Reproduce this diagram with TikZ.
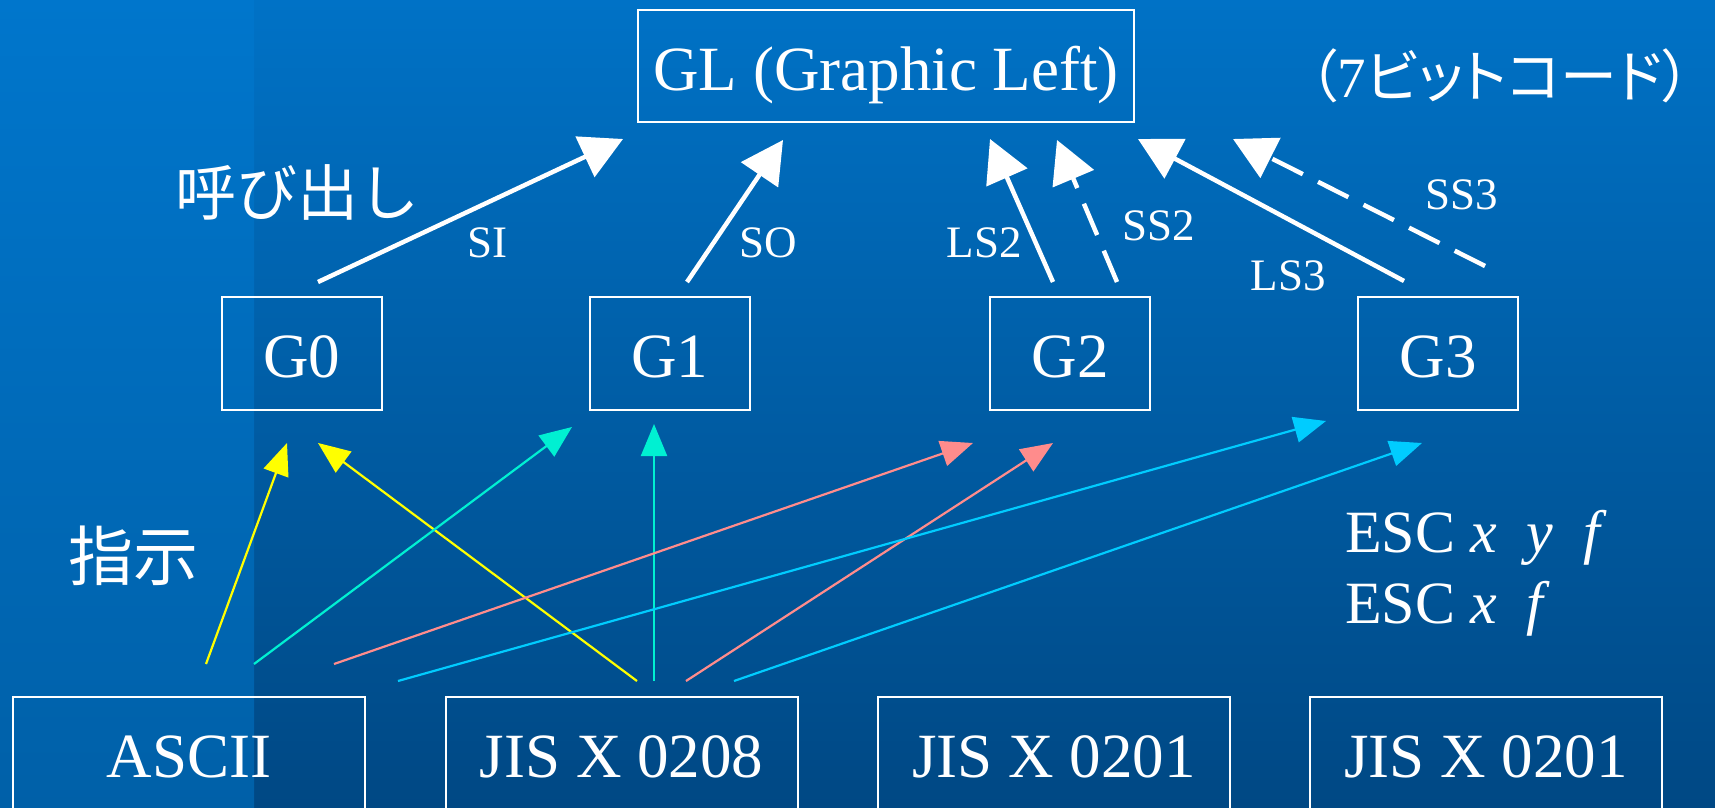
\documentclass[tikz,border=0pt]{standalone}
\usepackage{fontspec}
\setmainfont{Liberation Serif}
\newfontfamily\jp{Noto Sans CJK JP}
\newfontfamily\jpp[RawFeature=+palt]{Noto Sans CJK JP}
\usetikzlibrary{arrows.meta}
\definecolor{bgtop}{RGB}{0,114,198}
\definecolor{bgbot}{RGB}{0,72,132}
\definecolor{striptop}{RGB}{0,118,204}
\definecolor{stripbot}{RGB}{0,96,168}
\definecolor{cyel}{RGB}{255,255,0}
\definecolor{caqua}{RGB}{0,240,210}
\definecolor{csalmon}{RGB}{255,140,140}
\definecolor{csky}{RGB}{0,204,255}
\begin{document}
\begin{tikzpicture}[x=1pt,y=-1pt,
  box/.style={draw=white,line width=2pt,inner sep=0pt,text=white,font=\fontsize{63}{63}\selectfont},
  lbl/.style={text=white,inner sep=0pt,font=\fontsize{45}{45}\selectfont},
  jplbl/.style={text=white,inner sep=0pt},
  callarrow/.style={draw=white,line width=4.5pt,-{Triangle[length=42pt,width=44pt]}},
  desig/.style={line width=2.2pt,-{Triangle[length=32pt,width=26pt]}},
]
\useasboundingbox (0,0) rectangle (1715,808);
\clip (0,0) rectangle (1715,808);
\shade[top color=bgtop,bottom color=bgbot] (254,0) rectangle (1715,808);
\shade[top color=striptop,bottom color=stripbot] (0,0) rectangle (254,808);

% top box
\node[box,minimum width=496pt,minimum height=111pt] (gl) at (886,66) {\raisebox{-24.5pt}[0pt][0pt]{GL (Graphic Left)}};
\node[jplbl,font=\fontsize{57}{57}\selectfont] (bits) at (1500,76) {\jpp （\rmfamily 7\jpp ビットコード）};

% G boxes
\node[box,minimum width=160pt,minimum height=113pt] (g0) at (302,353.5) {\raisebox{-23.5pt}[0pt][0pt]{G0}};
\node[box,minimum width=160pt,minimum height=113pt] (g1) at (670,353.5) {\raisebox{-23.5pt}[0pt][0pt]{G1}};
\node[box,minimum width=160pt,minimum height=113pt] (g2) at (1070,353.5) {\raisebox{-23.5pt}[0pt][0pt]{G2}};
\node[box,minimum width=160pt,minimum height=113pt] (g3) at (1438,353.5) {\raisebox{-23.5pt}[0pt][0pt]{G3}};

% bottom boxes
\node[box,minimum width=352pt,minimum height=120pt] (ascii) at (189,757) {ASCII};
\node[box,minimum width=352pt,minimum height=120pt] (jis208) at (621.5,757) {JIS X 0208};
\node[box,minimum width=352pt,minimum height=120pt] (jis201a) at (1054,757) {JIS X 0201};
\node[box,minimum width=352pt,minimum height=120pt] (jis201b) at (1486,757) {JIS X 0201};

% Japanese labels
\node[jplbl,font=\jp\fontsize{61}{61}\selectfont] (yobi) at (297,192) {呼び出し};
\node[jplbl,font=\jp\fontsize{65}{65}\selectfont] (shiji) at (133,556) {指示};

% ESC text
\node[jplbl,anchor=base west,font=\fontsize{60}{60}\selectfont] (esc1) at (1345,552) {ESC \textit{x}\enspace\textit{y}\enspace\textit{f}};
\node[jplbl,anchor=base west,font=\fontsize{60}{60}\selectfont] (esc2) at (1345,623) {ESC \textit{x}\enspace\textit{f}};

% white arrow endpoints
\coordinate (siS) at (318,282);   \coordinate (siE) at (623,139);
\coordinate (soS) at (687,282);   \coordinate (soE) at (783,140);
\coordinate (lstwoS) at (1053,282); \coordinate (lstwoE) at (990,139);
\coordinate (sstwoS) at (1117,282); \coordinate (sstwoE) at (1057,140);
\coordinate (lsthreeS) at (1404,281); \coordinate (lsthreeE) at (1138,139);
\coordinate (ssthreeS) at (1485,266); \coordinate (ssthreeE) at (1233,139);

\draw[callarrow] (siS) -- (siE);
\draw[callarrow] (soS) -- (soE);
\draw[callarrow] (lstwoS) -- (lstwoE);
\draw[callarrow,dash pattern=on 34pt off 17pt] (sstwoS) -- (sstwoE);
\draw[callarrow] (lsthreeS) -- (lsthreeE);
\draw[callarrow,dash pattern=on 34pt off 17pt] (ssthreeS) -- (ssthreeE);

\node[lbl] (si) at (487,243) {SI};
\node[lbl] (so) at (768,243) {SO};
\node[lbl] (lstwo) at (984,243) {LS2};
\node[lbl] (sstwo) at (1159,226) {SS2};
\node[lbl] (lsthree) at (1288,276) {LS3};
\node[lbl] (ssthree) at (1462,195) {SS3};

% designation arrows
\coordinate (y1S) at (206,664); \coordinate (y1E) at (287,443);
\coordinate (y2S) at (637,681); \coordinate (y2E) at (318,443);
\coordinate (a1S) at (254,664); \coordinate (a1E) at (572,427);
\coordinate (a2S) at (654,681); \coordinate (a2E) at (654,424);
\coordinate (s1S) at (334,664); \coordinate (s1E) at (973,443);
\coordinate (s2S) at (686,681); \coordinate (s2E) at (1053,443);
\coordinate (k1S) at (398,681); \coordinate (k1E) at (1326,421);
\coordinate (k2S) at (734,681); \coordinate (k2E) at (1422,443);

\draw[desig,draw=cyel,fill=cyel] (y1S) -- (y1E);
\draw[desig,draw=cyel,fill=cyel] (y2S) -- (y2E);
\draw[desig,draw=caqua,fill=caqua] (a1S) -- (a1E);
\draw[desig,draw=caqua,fill=caqua] (a2S) -- (a2E);
\draw[desig,draw=csalmon,fill=csalmon] (s1S) -- (s1E);
\draw[desig,draw=csalmon,fill=csalmon] (s2S) -- (s2E);
\draw[desig,draw=csky,fill=csky] (k1S) -- (k1E);
\draw[desig,draw=csky,fill=csky] (k2S) -- (k2E);
\end{tikzpicture}
\end{document}
